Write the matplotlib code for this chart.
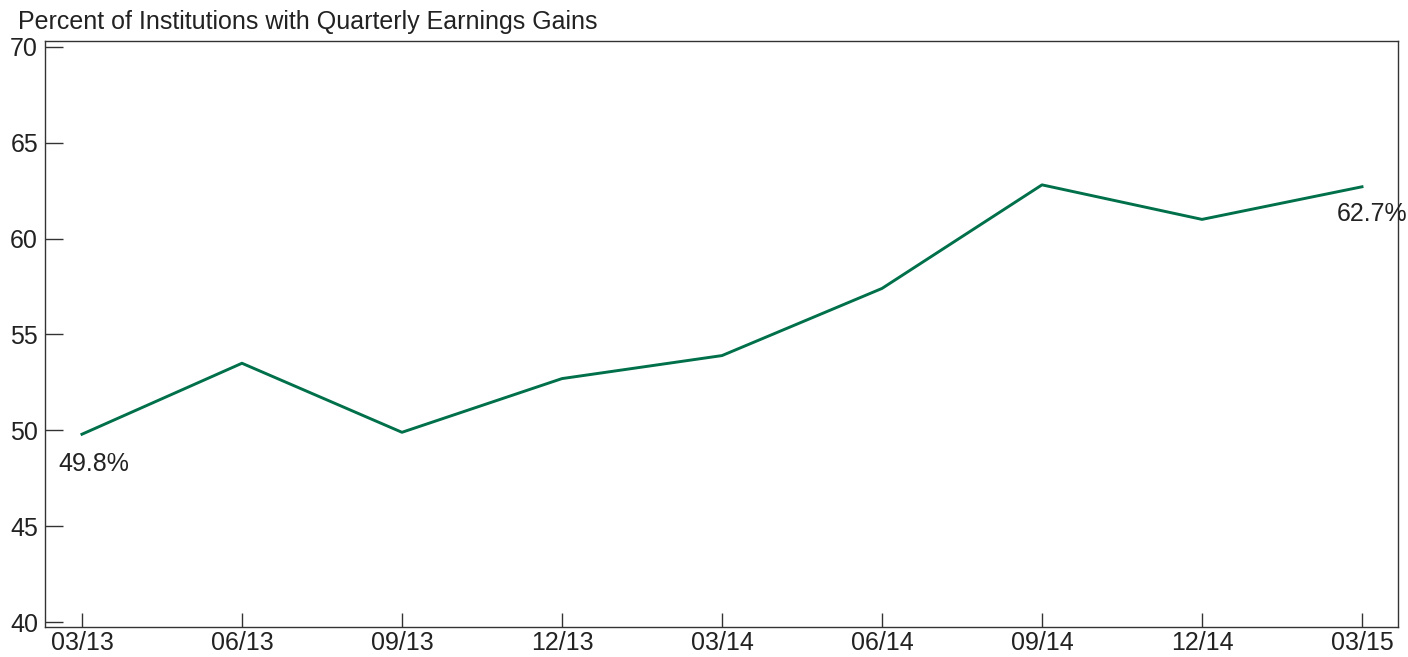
import matplotlib
matplotlib.use("Agg")
import matplotlib.pyplot as plt

quarters = ["03/13", "06/13", "09/13", "12/13", "03/14", "06/14", "09/14", "12/14", "03/15"]
pct_gains = [49.8, 53.5, 49.9, 52.7, 53.9, 57.4, 62.8, 61.0, 62.7]
y_ticks = [40, 45, 50, 55, 60, 65, 70]

plt.rcParams["font.family"] = ["Liberation Sans", "DejaVu Sans"]
text_color = "#222222"
green = "#00704A"
fs = 18

fig = plt.figure(figsize=(14.08, 6.57), dpi=100)
ax = fig.add_axes([45 / 1408, 1 - 627 / 657, (1398 - 45) / 1408, (627 - 41) / 657])

x = list(range(len(quarters)))
ax.plot(x, pct_gains, color=green, lw=2.1)

ax.set_xlim(-0.231, 8.225)
ax.set_ylim(39.75, 70.3)
ax.set_xticks(x)
ax.set_xticklabels(quarters)
ax.set_yticks(y_ticks)

ax.tick_params(axis="y", direction="in", length=13, width=1, colors="#333333",
               labelsize=fs, labelcolor=text_color, pad=5)
ax.tick_params(axis="x", direction="in", length=10, width=1, colors="#333333",
               labelsize=fs, labelcolor=text_color, pad=3)
for s in ax.spines.values():
    s.set_color("#333333")
    s.set_linewidth(1)

ax.annotate(f"{pct_gains[0]}%", (x[0], pct_gains[0]), xytext=(-24, -30),
            textcoords="offset pixels", fontsize=fs, color=text_color, va="center")
ax.annotate(f"{pct_gains[-1]}%", (x[-1], pct_gains[-1]), xytext=(-25, -27),
            textcoords="offset pixels", fontsize=fs, color=text_color, va="center",
            annotation_clip=False)

fig.text(18 / 1408, 1 - 22 / 657, "Percent of Institutions with Quarterly Earnings Gains",
         fontsize=fs, color=text_color, va="center", ha="left")

fig.savefig("out.png", dpi=100)
